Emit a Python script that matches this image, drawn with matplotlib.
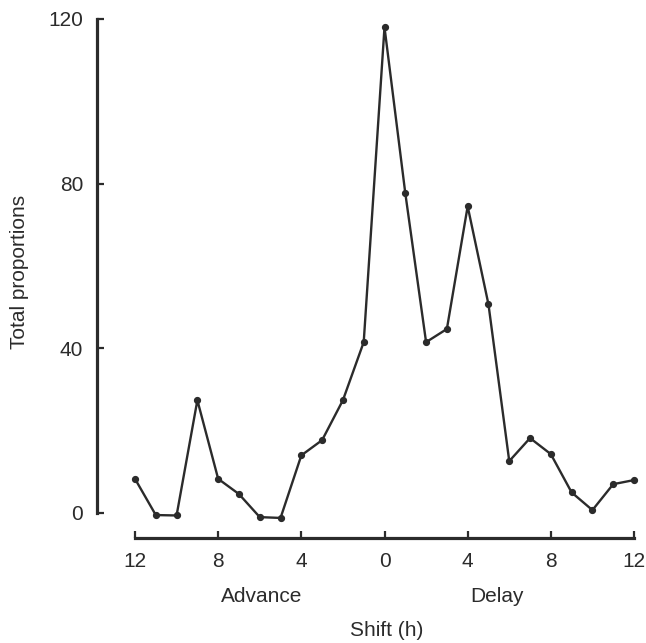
import matplotlib
matplotlib.use("Agg")
import matplotlib.pyplot as plt

# Phase shift (h): negative = advance, positive = delay
shift_h = [-12, -11, -10, -9, -8, -7, -6, -5, -4, -3, -2, -1, 0,
           1, 2, 3, 4, 5, 6, 7, 8, 9, 10, 11, 12]
total_proportions = [8.3, -0.5, -0.6, 27.4, 8.3, 4.6, -1.0, -1.2, 14.0, 17.7, 27.4, 41.5, 118.0,
                     77.7, 41.5, 44.7, 74.5, 50.7, 12.6, 18.2, 14.3, 5.0, 0.7, 7.0, 8.0]

x_ticks = [-12, -8, -4, 0, 4, 8, 12]
x_tick_labels = ["12", "8", "4", "0", "4", "8", "12"]
y_ticks = [0, 40, 80, 120]

plt.rcParams["font.family"] = ["Liberation Sans", "DejaVu Sans"]
ink = "#2b2b2b"
fs = 15

W, H = 646, 643
fig = plt.figure(figsize=(W / 100, H / 100), dpi=100)
ax = fig.add_axes([135 / W, (H - 513) / H, (634 - 135) / W, (513 - 19) / H])

ax.plot(shift_h, total_proportions, color=ink, lw=1.7, marker="o", ms=4.2,
        mfc=ink, mec=ink, clip_on=False, zorder=3)

ax.set_xlim(-12, 12)
ax.set_ylim(0, 120)

for side in ("top", "right"):
    ax.spines[side].set_visible(False)
ax.spines["left"].set_position(("outward", 27.4))
ax.spines["bottom"].set_position(("outward", 18))
ax.spines["left"].set_bounds(0, 120)
ax.spines["bottom"].set_bounds(-12, 12)
for side in ("left", "bottom"):
    ax.spines[side].set_linewidth(2.3)
    ax.spines[side].set_color(ink)

ax.set_xticks(x_ticks)
ax.set_xticklabels(x_tick_labels)
ax.set_yticks(y_ticks)
ax.tick_params(axis="both", direction="in", length=5, width=1.6, color=ink,
               labelsize=fs, labelcolor=ink)
ax.tick_params(axis="x", pad=10)
ax.tick_params(axis="y", pad=10)

# Direction labels under the shift axis
ax.text(-5.9, -20.3, "Advance", ha="center", va="center", fontsize=fs, color=ink)
ax.text(5.4, -20.3, "Delay", ha="center", va="center", fontsize=fs, color=ink)
ax.text(0.1, -28.6, "Shift (h)", ha="center", va="center", fontsize=fs, color=ink)

fig.text(20 / W, 1 - 272 / H, "Total proportions", rotation=90,
         ha="center", va="center", fontsize=fs, color=ink)

fig.savefig("out.png", dpi=100, facecolor="white")
